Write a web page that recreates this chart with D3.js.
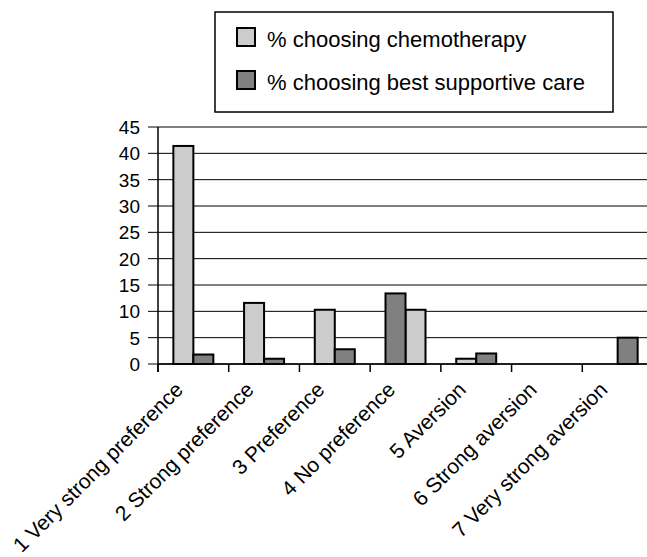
<!DOCTYPE html>
<html>
<head>
<meta charset="utf-8">
<script src="https://cdn.jsdelivr.net/npm/d3@7"></script>
<style>
  body { margin: 0; background: #fff; }
  text { font-family: "Liberation Sans", Arial, sans-serif; fill: #000; }
</style>
</head>
<body>
<div id="d3"></div>
<script>
// data
const categories = [
  "1 Very strong preference",
  "2 Strong preference",
  "3 Preference",
  "4 No preference",
  "5 Aversion",
  "6 Strong aversion",
  "7 Very strong aversion"
];
const chemo = [41.4, 11.6, 10.3, 10.3, 1.0, 0, 0];
const bsc = [1.8, 1.0, 2.8, 13.4, 2.0, 0, 5.0];
// in the original the 4th group has its two bars swapped
const swapped = ["4 No preference"];
const yTicks = [0, 5, 10, 15, 20, 25, 30, 35, 40, 45];
const seriesNames = ["% choosing chemotherapy", "% choosing best supportive care"];
const seriesColors = ["#cccccc", "#808080"];

const W = 647, H = 557;

const svg = d3
  .select("#d3")
  .append("svg")
  .attr("width", W)
  .attr("height", H);

const x = d3.scaleBand().domain(categories).range([158, 653]);
const y = d3.scaleLinear().domain([0, 45]).range([364, 127]);
const barW = 20;

// gridlines
svg
  .append("g")
  .selectAll("line")
  .data(yTicks)
  .join("line")
  .attr("x1", 148)
  .attr("x2", W)
  .attr("y1", (d) => y(d))
  .attr("y2", (d) => y(d))
  .attr("stroke", "#000")
  .attr("stroke-width", 1);

// y tick labels
svg
  .append("g")
  .selectAll("text")
  .data(yTicks)
  .join("text")
  .attr("x", 140)
  .attr("y", (d) => y(d))
  .attr("dy", "0.36em")
  .attr("text-anchor", "end")
  .style("font-size", "19px")
  .text((d) => d);

// y axis line
svg
  .append("line")
  .attr("x1", 158)
  .attr("x2", 158)
  .attr("y1", y(45))
  .attr("y2", y(0) + 8)
  .attr("stroke", "#000")
  .attr("stroke-width", 1.5);

// x axis line + ticks at category boundaries
svg
  .append("line")
  .attr("x1", 158)
  .attr("x2", W)
  .attr("y1", y(0))
  .attr("y2", y(0))
  .attr("stroke", "#000")
  .attr("stroke-width", 1.5);
svg
  .append("g")
  .selectAll("line")
  .data(categories)
  .join("line")
  .attr("x1", (d) => x(d))
  .attr("x2", (d) => x(d))
  .attr("y1", y(0))
  .attr("y2", y(0) + 8)
  .attr("stroke", "#000")
  .attr("stroke-width", 1.5);

// bars
const rows = [];
categories.forEach((c, i) => {
  const flip = swapped.includes(c);
  [chemo[i], bsc[i]].forEach((v, s) => {
    const slot = flip ? 1 - s : s;
    rows.push({ cat: c, value: v, series: s, slot: slot });
  });
});

svg
  .append("g")
  .selectAll("rect")
  .data(rows.filter((d) => d.value > 0))
  .join("rect")
  .attr("x", (d) => x(d.cat) + x.bandwidth() / 2 - barW + d.slot * barW)
  .attr("y", (d) => y(d.value))
  .attr("width", barW)
  .attr("height", (d) => y(0) - y(d.value))
  .attr("fill", (d) => seriesColors[d.series])
  .attr("stroke", "#000")
  .attr("stroke-width", 2);

// category labels
svg
  .append("g")
  .selectAll("text")
  .data(categories)
  .join("text")
  .attr("text-anchor", "end")
  .attr(
    "transform",
    (d) => `translate(${x(d) + x.bandwidth() / 2 - 9}, 391) rotate(-45)`
  )
  .style("font-size", "21px")
  .text((d) => d);

// legend
const legend = svg.append("g");
legend
  .append("rect")
  .attr("x", 215)
  .attr("y", 12)
  .attr("width", 398)
  .attr("height", 100)
  .attr("fill", "#fff")
  .attr("stroke", "#000")
  .attr("stroke-width", 1.5);

const items = legend
  .selectAll("g")
  .data(seriesNames)
  .join("g")
  .attr("transform", (d, i) => `translate(237, ${28 + i * 43})`);
items
  .append("rect")
  .attr("width", 18)
  .attr("height", 18)
  .attr("fill", (d, i) => seriesColors[i])
  .attr("stroke", "#000")
  .attr("stroke-width", 2);
items
  .append("text")
  .attr("x", 30)
  .attr("y", 19)
  .style("font-size", "22px")
  .text((d) => d);
</script>
</body>
</html>
